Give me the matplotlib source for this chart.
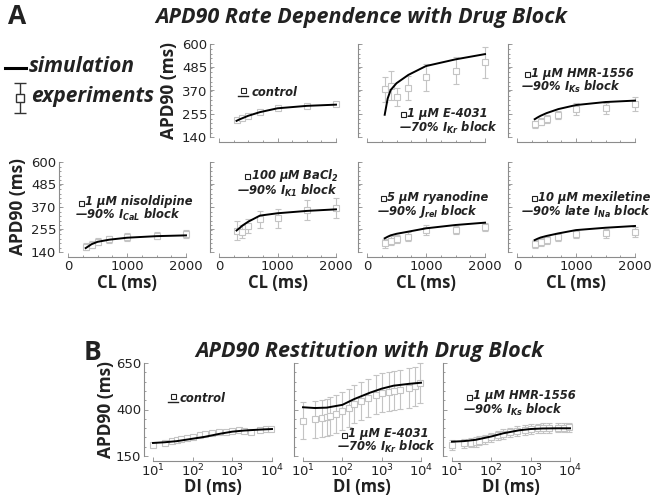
import matplotlib
matplotlib.use("Agg")
import matplotlib.pyplot as plt
from matplotlib.ticker import MultipleLocator, NullFormatter, LogLocator, FuncFormatter
import numpy as np

plt.rcParams['mathtext.fontset'] = 'custom'
plt.rcParams['mathtext.it'] = 'DejaVu Sans:bold:italic'
plt.rcParams['mathtext.rm'] = 'DejaVu Sans:bold:italic'
plt.rcParams['mathtext.bf'] = 'DejaVu Sans:bold:italic'
plt.rcParams['font.family'] = ['DejaVu Sans']

# ---------------- data: Panel A (rate dependence) ----------------
CL_exp = [300, 400, 500, 700, 1000, 1500, 2000]
CL_sim = [300, 350, 400, 500, 700, 1000, 1500, 2000]

ctrl_exp = [224, 232, 244, 265, 285, 293, 302]
ctrl_err = [5, 5, 5, 5, 5, 5, 5]
ctrl_sim = [220, 227, 233, 245, 263, 282, 294, 300]

e4031_exp = [376, 394, 339, 381, 435, 468, 509]
e4031_err = [62, 70, 45, 60, 68, 66, 75]
e4031_sim = [250, 330, 372, 406, 447, 491, 524, 550]

hmr_exp = [203, 216, 229, 249, 278, 282, 302]
hmr_err = [18, 18, 20, 22, 30, 28, 35]
hmr_sim = [228, 237, 245, 258, 278, 298, 313, 320]

nis_exp = [167, 176, 193, 205, 215, 222, 232]
nis_err = [18, 18, 18, 18, 20, 18, 18]
nis_sim = [160, 170, 180, 192, 203, 213, 221, 225]

ba_exp = [249, 244, 273, 307, 312, 355, 366]
ba_err = [48, 35, 37, 45, 48, 50, 50]
ba_sim = [250, 262, 275, 295, 326, 338, 350, 358]

rya_exp = [184, 198, 206, 218, 252, 252, 269]
rya_err = [22, 22, 20, 22, 25, 22, 20]
rya_sim = [210, 218, 225, 233, 244, 261, 278, 290]

mex_exp = [181, 193, 201, 215, 232, 235, 244]
mex_err = [20, 20, 20, 20, 22, 22, 25]
mex_sim = [201, 208, 214, 222, 235, 252, 264, 273]

# ---------------- data: Panel B (restitution) ----------------
DI_exp = [10, 20, 30, 40, 50, 70, 100, 150, 200, 300, 450, 700, 1000,
          1500, 2000, 3000, 5000, 7000, 9500]
DI_sim = [10, 20, 40, 100, 200, 500, 1000, 2000, 5000, 10000]

rctrl_exp = [209, 218, 231, 236, 241, 248, 254, 261, 267, 272, 277, 281, 286,
             288, 284, 281, 290, 293, 295]
rctrl_err = [8] * 19
rctrl_sim = [220, 224, 230, 243, 253, 270, 281, 287, 292, 295]

re4031_exp = [340, 347, 353, 358, 365, 376, 394, 410, 428, 444, 460, 479, 490,
              496, 501, 506, 515, 524, 541]
re4031_err = [100, 100, 100, 100, 100, 100, 102, 102, 102, 103, 103, 104, 104,
              105, 105, 105, 106, 106, 107]
re4031_sim = [412, 408, 410, 425, 456, 490, 512, 528, 538, 544]

rhmr_exp = [209, 218, 222, 226, 232, 240, 250, 262, 268, 278, 285, 290, 295,
            299, 300, 301, 302, 303, 304]
rhmr_err = [25] * 19
rhmr_sim = [227, 230, 237, 255, 272, 288, 295, 298, 299, 299]

A_yticks = [140, 255, 370, 485, 600]
A_xticks = [0, 1000, 2000]
B_yticks = [150, 400, 650]
B_xticks = [10, 100, 1000, 10000]

# ---------------- figure ----------------
W, H = 653, 499
fig = plt.figure(figsize=(W / 100, H / 100), dpi=100)

TXT = '#222222'
SPINE = '#8c8c8c'
EXPC = '#c4c4c4'
LAB_FONT = ['Open Sans', 'DejaVu Sans']
ANN_FONT = ['DejaVu Sans']


def px_axes(x0, x1, ytop, ybot):
    return fig.add_axes([x0 / W, 1 - ybot / H, (x1 - x0) / W, (ybot - ytop) / H])


def style(ax, ylim, yticks, ylabels, xlabels, xpad=2):
    for s in ['top', 'right']:
        ax.spines[s].set_visible(False)
    ax.spines['left'].set_position(('outward', 6.5))
    ax.spines['bottom'].set_position(('outward', 3.6))
    for s in ['left', 'bottom']:
        ax.spines[s].set_color(SPINE)
        ax.spines[s].set_linewidth(0.8)
    ax.set_ylim(*ylim)
    ax.set_yticks(yticks)
    ax.yaxis.set_minor_locator(MultipleLocator((yticks[1] - yticks[0]) / 5))
    ax.tick_params(which='both', direction='in', color=SPINE, width=0.6,
                   labelsize=9.5, labelcolor=TXT, pad=2)
    ax.tick_params(axis='x', pad=xpad)
    ax.tick_params(which='major', length=3)
    ax.tick_params(which='minor', length=1.5)
    if not ylabels:
        ax.set_yticklabels([])
    if not xlabels:
        ax.set_xticklabels([])
    ax.patch.set_visible(False)


def axlabels(ax, xl, yl, xc, yc):
    if xl:
        ax.set_xlabel(xl, family=LAB_FONT, fontweight='bold', fontsize=12,
                      color=TXT)
        ax.xaxis.set_label_coords(0.5, xc)
        ax.xaxis.label.set_va('center')
    if yl:
        ax.set_ylabel(yl, family=LAB_FONT, fontweight='bold', fontsize=12.5,
                      color=TXT)
        ax.yaxis.set_label_coords(yc, 0.5)
        ax.yaxis.label.set_va('center')


def plot_a(ax, exp, err, sim):
    ax.errorbar(CL_exp, exp, yerr=err, fmt='s', ms=4, mfc='white', mec=EXPC,
                mew=0.8, ecolor=EXPC, elinewidth=0.8, capsize=2.5, capthick=0.8,
                zorder=2, clip_on=False)
    ax.plot(CL_sim, sim, color='black', lw=1.4, zorder=3, clip_on=False)
    ax.set_xlim(0, 2000)
    ax.set_xticks(A_xticks)
    ax.xaxis.set_minor_locator(MultipleLocator(250))


def plot_b(ax, exp, err, sim):
    ax.errorbar(DI_exp, exp, yerr=err, fmt='s', ms=4, mfc='white', mec=EXPC,
                mew=0.8, ecolor=EXPC, elinewidth=0.8, capsize=2.5, capthick=0.8,
                zorder=2, clip_on=False)
    ax.plot(DI_sim, sim, color='black', lw=1.4, zorder=3, clip_on=False)
    ax.set_xscale('log')
    ax.set_xlim(10, 10000)
    ax.set_xticks(B_xticks)
    ax.xaxis.set_major_formatter(FuncFormatter(
        lambda v, p: r'$\mathregular{10^{%d}}$' % int(round(np.log10(v)))))
    ax.xaxis.set_minor_locator(LogLocator(base=10, subs=np.arange(2, 10)))
    ax.xaxis.set_minor_formatter(NullFormatter())


cols = [(68, 186), (219, 336), (367, 485), (517, 635)]
top_y = (44, 137)
bot_y = (162, 252)

# top row
a1 = px_axes(*cols[1], *top_y)
plot_a(a1, ctrl_exp, ctrl_err, ctrl_sim)
style(a1, (140, 600), A_yticks, True, False)
axlabels(a1, None, 'APD90 (ms)', None, (169 - 219) / 117)

a2 = px_axes(*cols[2], *top_y)
plot_a(a2, e4031_exp, e4031_err, e4031_sim)
style(a2, (140, 600), A_yticks, False, False)

a3 = px_axes(*cols[3], *top_y)
plot_a(a3, hmr_exp, hmr_err, hmr_sim)
style(a3, (140, 600), A_yticks, False, False)

# bottom row
bot_data = [(nis_exp, nis_err, nis_sim), (ba_exp, ba_err, ba_sim),
            (rya_exp, rya_err, rya_sim), (mex_exp, mex_err, mex_sim)]
for i, (e, er, s) in enumerate(bot_data):
    ax = px_axes(*cols[i], *bot_y)
    plot_a(ax, e, er, s)
    style(ax, (140, 600), A_yticks, i == 0, True)
    axlabels(ax, 'CL (ms)', 'APD90 (ms)' if i == 0 else None,
             (252 - 283) / 90, (18 - 68) / 118)

# panel B
bcols = [(153, 272), (303, 421), (452, 570)]
b_y = (363, 456)
b_data = [(rctrl_exp, rctrl_err, rctrl_sim), (re4031_exp, re4031_err, re4031_sim),
          (rhmr_exp, rhmr_err, rhmr_sim)]
for i, (e, er, s) in enumerate(b_data):
    ax = px_axes(*bcols[i], *b_y)
    plot_b(ax, e, er, s)
    style(ax, (150, 650), B_yticks, i == 0, True, xpad=1)
    axlabels(ax, 'DI (ms)', 'APD90 (ms)' if i == 0 else None,
             (456 - 487) / 93, (106 - 153) / 119)

# ---------------- annotation overlay (pixel coordinates) ----------------
ov = fig.add_axes([0, 0, 1, 1])
ov.set_xlim(0, W)
ov.set_ylim(H, 0)
ov.axis('off')
ov.patch.set_visible(False)


def t(x, y, s, size=9.5, ha='left', family=None, **kw):
    ov.text(x, y, s, fontsize=size, family=family or LAB_FONT,
            fontweight='bold', fontstyle='italic', color=TXT, ha=ha,
            va='center', **kw)


# panel letters and titles
ov.text(8, 16, 'A', fontsize=19, family=LAB_FONT, fontweight='bold', color=TXT,
        va='center')
ov.text(84, 352, 'B', fontsize=19, family=LAB_FONT, fontweight='bold', color=TXT,
        va='center')
t(361, 17, 'APD90 Rate Dependence with Drug Block', size=15.5, ha='center')
t(369, 352, 'APD90 Restitution with Drug Block', size=15.5, ha='center')

# legend
ov.plot([5, 26], [68, 68], color='black', lw=2.2)
t(29, 66, 'simulation', size=15)
ov.errorbar([20], [98], yerr=[[15], [15]], fmt='s', ms=6, mfc='white',
            mec='#333333', mew=1, ecolor='#333333', elinewidth=1, capsize=4,
            capthick=1)
t(31, 96, 'experiments', size=15)

ASZ = 8.3


def sq(x, y, ms=3.6):
    ov.plot([x], [y], marker='s', ms=ms, mfc='white', mec=TXT, mew=0.8)


def lbl(x1, y1, line1, x2, y2, line2):
    sq(x1 - 4, y1 + 0.5)
    t(x1, y1, line1, size=ASZ, family=ANN_FONT)
    t(x2, y2, line2, size=ASZ, family=ANN_FONT)


# control (A)
sq(243, 90)
ov.plot([238, 248], [95.5, 95.5], color=TXT, lw=1)
t(252, 92, 'control', size=ASZ, family=ANN_FONT)

lbl(407, 113, '1 µM E-4031', 399, 128, '—70% $I_{Kr}$ block')
lbl(531, 73, '1 µM HMR-1556', 521, 87, '—90% $I_{Ks}$ block')
lbl(85, 202, '1 µM nisoldipine', 75, 215, '—90% $I_{CaL}$ block')
lbl(251, 175, '100 µM BaCl$_2$', 237, 191, '—90% $I_{K1}$ block')
lbl(387, 197, '5 µM ryanodine', 377, 212, '—90% $J_{rel}$ block')
lbl(538, 197, '10 µM mexiletine', 521, 212, '—90% late $I_{Na}$ block')

# control (B)
sq(173, 396)
ov.plot([168, 178], [401.5, 401.5], color=TXT, lw=1)
t(180, 399, 'control', size=ASZ, family=ANN_FONT)

lbl(348, 434, '1 µM E-4031', 337, 447, '—70% $I_{Kr}$ block')
lbl(473, 396, '1 µM HMR-1556', 463, 410, '—90% $I_{Ks}$ block')

fig.savefig('out.png', dpi=100)
